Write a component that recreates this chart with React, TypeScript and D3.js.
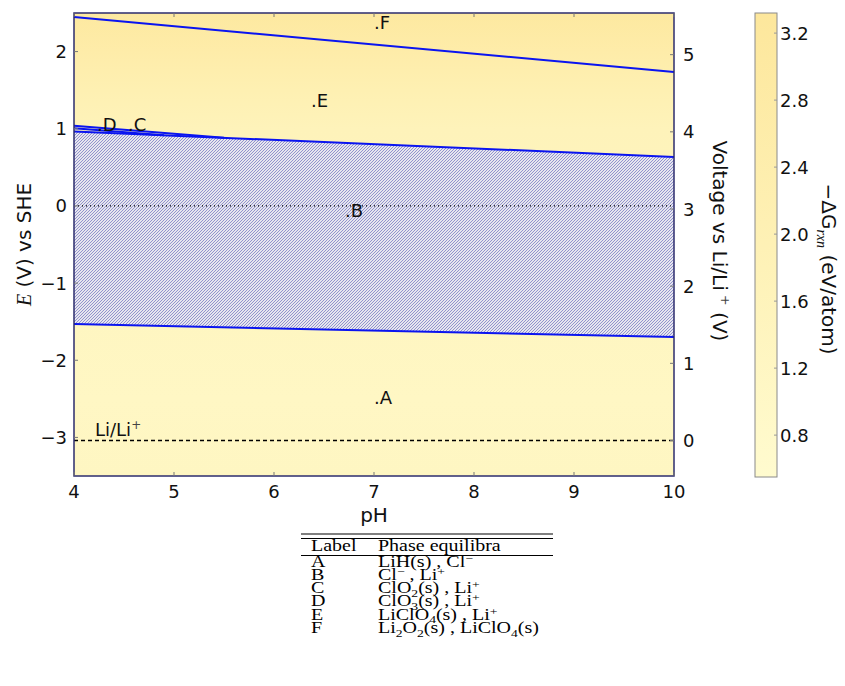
import React from "react";
import * as d3 from "d3";

// axis ticks
const phTicks = [4, 5, 6, 7, 8, 9, 10];
const eTicks = [-3, -2, -1, 0, 1, 2];
const liTicks = [0, 1, 2, 3, 4, 5];
const cbTicks = [0.8, 1.2, 1.6, 2.0, 2.4, 2.8, 3.2];
const LI_OFFSET = 3.04;

// phase boundaries, [pH, E]
const boundaryLines: [number, number][][] = [
  [[4, 2.448], [10, 1.736]],
  [[4, 1.038], [5.5, 0.8825]],
  [[4, 1.008], [4.9, 0.9155]],
  [[4, 0.965], [10, 0.635]],
  [[4, -1.53], [10, -1.7]],
];
const hatchTop: [number, number][] = [[4, 0.965], [10, 0.635]];
const hatchBottom: [number, number][] = [[4, -1.53], [10, -1.7]];

// -dG field sampled along E (background)
const bgE = [2.5, 2.0, 1.5, 1.0, 0.0, -1.5, -2.5, -3.5];
const bgDG = [3.1, 2.6, 2.1, 1.7, 1.5, 1.3, 1.15, 1.25];

const regionLabels = [
  { name: "A", pH: 7.0, E: -2.565 },
  { name: "B", pH: 6.71, E: -0.14 },
  { name: "C", pH: 4.54, E: 0.97 },
  { name: "D", pH: 4.23, E: 0.97 },
  { name: "E", pH: 6.37, E: 1.28 },
  { name: "F", pH: 7.0, E: 2.29 },
];

const tableLabels = ["A", "B", "C", "D", "E", "F"];
const tablePhases = [
  "LiH(s) , Cl^{−}",
  "Cl^{−} , Li^{+}",
  "ClO_{2}(s) , Li^{+}",
  "ClO_{3}(s) , Li^{+}",
  "LiClO_{4}(s) , Li^{+}",
  "Li_{2}O_{2}(s) , LiClO_{4}(s)",
];

const W = 845;
const H = 686;
const plot = { left: 74, right: 674, top: 13, bottom: 476 };
const cb = { left: 755, right: 777, top: 13, bottom: 477 };
const FONT = "DejaVu Sans";
const SERIF = "Liberation Serif";

const formatTick = (v: number) => (v < 0 ? "\u2212" + Math.abs(v) : String(v));

function Formula({ s, size }: { s: string; size: number }) {
  const parts = s.split(/(\^\{[^}]*\}|_\{[^}]*\})/).filter((p) => p.length);
  let shift = 0;
  return (
    <>
      {parts.map((p, i) => {
        let dy = 0;
        let txt = p;
        let fs = size;
        if (p.startsWith("_{")) {
          txt = p.slice(2, -1);
          dy = 3.5 - shift;
          shift = 3.5;
          fs = size * 0.68;
        } else if (p.startsWith("^{")) {
          txt = p.slice(2, -1);
          dy = -5 - shift;
          shift = -5;
          fs = size * 0.68;
        } else {
          dy = -shift;
          shift = 0;
        }
        return (
          <tspan key={i} dy={dy} fontSize={fs}>
            {txt}
          </tspan>
        );
      })}
    </>
  );
}

export default function App() {
  const x = d3.scaleLinear().domain([4, 10]).range([plot.left, plot.right]);
  const y = d3.scaleLinear().domain([-3.5, 2.5]).range([plot.bottom, plot.top]);
  const yLi = d3
    .scaleLinear()
    .domain([-3.5 + LI_OFFSET, 2.5 + LI_OFFSET])
    .range([plot.bottom, plot.top]);
  const yCb = d3.scaleLinear().domain([0.55, 3.32]).range([cb.bottom, cb.top]);
  const color = d3
    .scaleLinear<string>()
    .domain([0.55, 3.32])
    .range(["#fffbcf", "#fde79c"])
    .interpolate(d3.interpolateRgb);

  const line = d3
    .line<[number, number]>()
    .x((d) => x(d[0]))
    .y((d) => y(d[1]));

  const hatchArea = line(hatchTop.concat([...hatchBottom].reverse())) + "Z";
  const spine = "#2d2d6e";
  const ph = plot.bottom - plot.top;
  const rowY = (i: number) => 566.5 + i * 13.3;
  const tfs = 16;
  const sx = 1.25;

  return (
    <svg
      width={W}
      height={H}
      style={{ position: "absolute", left: 0, top: 0, background: "#fff" }}
      fontFamily={FONT}
    >
      <defs>
        <linearGradient id="bg" x1="0" y1="0" x2="0" y2="1">
          {bgE.map((e, i) => (
            <stop key={i} offset={(y(e) - plot.top) / ph} stopColor={color(bgDG[i])} />
          ))}
        </linearGradient>
        <linearGradient id="cbg" x1="0" y1="1" x2="0" y2="0">
          <stop offset="0" stopColor={color(0.55)} />
          <stop offset="1" stopColor={color(3.32)} />
        </linearGradient>
        <pattern id="hatch" patternUnits="userSpaceOnUse" width="3" height="3">
          <rect width="3" height="3" fill="#e6e6ee" />
          <path d="M-1,1 l2,-2 M0,3 l3,-3 M2,4 l2,-2" stroke="#7676c2" strokeWidth="0.75" />
        </pattern>
      </defs>

      {/* background field */}
      <rect x={plot.left} y={plot.top} width={plot.right - plot.left} height={ph} fill="url(#bg)" />

      {/* hatched stable region */}
      <path d={hatchArea} fill="url(#hatch)" />

      {/* boundaries */}
      {boundaryLines.map((l, i) => (
        <path key={i} d={line(l) || ""} fill="none" stroke="#0a14f0" strokeWidth={2} />
      ))}

      {/* E = 0 dotted */}
      <line x1={plot.left} x2={plot.right} y1={y(0)} y2={y(0)} stroke="#000" strokeWidth={1.2} strokeDasharray="1,3" />
      {/* Li/Li+ dashed */}
      <line
        x1={plot.left}
        x2={plot.right}
        y1={y(-LI_OFFSET)}
        y2={y(-LI_OFFSET)}
        stroke="#000"
        strokeWidth={1.5}
        strokeDasharray="4,3"
      />
      <text x={95} y={y(-LI_OFFSET) - 5} fontSize={18} fill="#111">
        Li/Li
        <tspan dy={-7} fontSize={12} fill="#444">+</tspan>
      </text>

      {regionLabels.map((r) => (
        <text key={r.name} x={x(r.pH)} y={y(r.E)} fontSize={18} fill="#111">
          .{r.name}
        </text>
      ))}

      {/* frame */}
      <rect
        x={plot.left}
        y={plot.top}
        width={plot.right - plot.left}
        height={ph}
        fill="none"
        stroke={spine}
        strokeWidth={1.5}
      />

      {/* pH ticks */}
      {phTicks.map((t) => (
        <g key={t}>
          <line x1={x(t)} x2={x(t)} y1={plot.bottom} y2={plot.bottom - 4} stroke="#777" />
          <line x1={x(t)} x2={x(t)} y1={plot.top} y2={plot.top + 4} stroke="#777" />
          <text x={x(t)} y={498} fontSize={18} textAnchor="middle" fill="#111">
            {t}
          </text>
        </g>
      ))}
      <text x={(plot.left + plot.right) / 2} y={522} fontSize={20} textAnchor="middle" fill="#111">
        pH
      </text>

      {/* E ticks */}
      {eTicks.map((t) => (
        <g key={t}>
          <line x1={plot.left} x2={plot.left + 4} y1={y(t)} y2={y(t)} stroke="#777" />
          <text x={67} y={y(t) + 6.5} fontSize={18} textAnchor="end" fill="#111">
            {formatTick(t)}
          </text>
        </g>
      ))}
      <text
        transform={`translate(31,${(plot.top + plot.bottom) / 2}) rotate(-90)`}
        fontSize={20}
        textAnchor="middle"
        fill="#111"
      >
        <tspan fontFamily={SERIF} fontStyle="italic">E</tspan> (V) vs SHE
      </text>

      {/* Li/Li+ ticks */}
      {liTicks.map((t) => (
        <g key={t}>
          <line x1={plot.right} x2={plot.right - 4} y1={yLi(t)} y2={yLi(t)} stroke="#777" />
          <text x={683} y={yLi(t) + 6.5} fontSize={18} fill="#111">
            {t}
          </text>
        </g>
      ))}
      <text transform={`translate(713,241) rotate(90)`} fontSize={20} textAnchor="middle" fill="#111">
        Voltage vs Li/Li
        <tspan dy={-8} fontSize={13} fill="#444">{" +"}</tspan>
        <tspan dy={8}>{"  (V)"}</tspan>
      </text>

      {/* colorbar */}
      <rect
        x={cb.left}
        y={cb.top}
        width={cb.right - cb.left}
        height={cb.bottom - cb.top}
        fill="url(#cbg)"
        stroke="#8a8a8a"
        strokeWidth={1}
      />
      {cbTicks.map((t) => (
        <g key={t}>
          <line x1={cb.right} x2={cb.right - 3} y1={yCb(t)} y2={yCb(t)} stroke="#999" />
          <text x={780} y={yCb(t) + 6.5} fontSize={18} fill="#111">
            {t.toFixed(1)}
          </text>
        </g>
      ))}
      <text transform={`translate(822,269) rotate(90)`} fontSize={20} textAnchor="middle" fill="#111">
        {"\u2212\u0394G"}
        <tspan dy={5} fontSize={14} fontFamily={SERIF} fontStyle="italic">
          rxn
        </tspan>
        <tspan dy={-5}>{"  (eV/atom)"}</tspan>
      </text>

      {/* phase table */}
      <g fontFamily={SERIF} fill="#000">
        <line x1={301} x2={553} y1={534} y2={534} stroke="#000" strokeWidth={1.2} />
        <line x1={301} x2={553} y1={538.5} y2={538.5} stroke="#000" strokeWidth={1} />
        <text transform={`translate(311,551) scale(${sx},1)`} fontSize={tfs}>Label</text>
        <text transform={`translate(378,551) scale(${sx},1)`} fontSize={tfs}>Phase equilibra</text>
        <line x1={301} x2={553} y1={555.5} y2={555.5} stroke="#000" strokeWidth={1} />
        {tableLabels.map((l, i) => (
          <g key={l}>
            <text transform={`translate(311,${rowY(i)}) scale(${sx},1)`} fontSize={tfs}>
              {l}
            </text>
            <text transform={`translate(378,${rowY(i)}) scale(${sx},1)`} fontSize={tfs}>
              <Formula s={tablePhases[i]} size={tfs} />
            </text>
          </g>
        ))}
      </g>
    </svg>
  );
}
